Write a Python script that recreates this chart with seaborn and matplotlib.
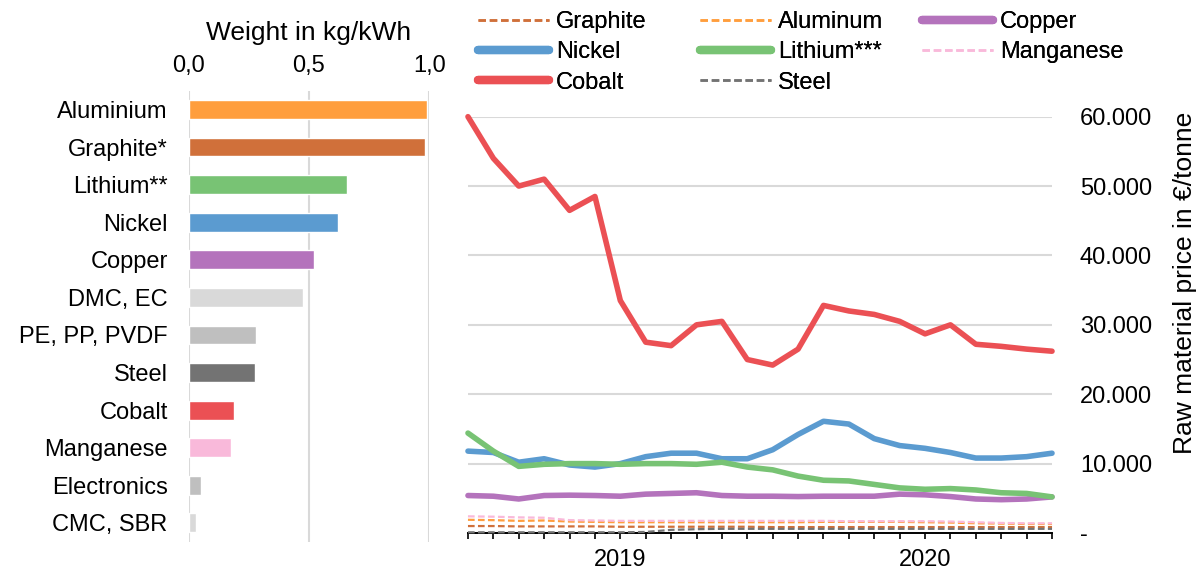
import numpy as np
import pandas as pd
import matplotlib
matplotlib.use("Agg")
import matplotlib.pyplot as plt
from matplotlib.lines import Line2D
import seaborn as sns

# ---- Material weights per kWh of battery capacity ----
materials = ["Aluminium", "Graphite*", "Lithium**", "Nickel", "Copper", "DMC, EC",
             "PE, PP, PVDF", "Steel", "Cobalt", "Manganese", "Electronics", "CMC, SBR"]
weights = [0.99, 0.98, 0.66, 0.62, 0.52, 0.475, 0.28, 0.275, 0.19, 0.175, 0.05, 0.03]
bar_colors = ["#FF9E3D", "#D0703A", "#78C374", "#5B9BD0", "#B473BC", "#D9D9D9",
              "#BFBFBF", "#737373", "#EB5054", "#F9B9DA", "#BFBFBF", "#D9D9D9"]
weight_ticks = [0.0, 0.5, 1.0]

# ---- Monthly raw material prices (EUR/tonne) ----
months = pd.date_range("2018-07-01", periods=24, freq="MS")
graphite = [1000, 1000, 950, 950, 950, 950, 900, 900, 900, 900, 900, 900,
            850, 850, 850, 850, 850, 850, 850, 850, 850, 850, 850, 850]
aluminum = [1900, 1850, 1750, 1800, 1650, 1600, 1550, 1550, 1550, 1550, 1550, 1550,
            1550, 1550, 1600, 1600, 1600, 1600, 1550, 1500, 1400, 1350, 1300, 1300]
copper = [5400, 5300, 4900, 5400, 5450, 5400, 5300, 5600, 5700, 5800, 5400, 5300,
          5300, 5250, 5300, 5300, 5300, 5600, 5500, 5250, 4900, 4800, 4900, 5200]
nickel = [11800, 11600, 10200, 10700, 9800, 9500, 10000, 11000, 11500, 11500, 10700, 10700,
          12000, 14200, 16100, 15700, 13600, 12600, 12200, 11600, 10800, 10800, 11000, 11500]
lithium = [14400, 11800, 9600, 9900, 10000, 10000, 9900, 10000, 10000, 9900, 10200, 9500,
           9100, 8200, 7600, 7500, 7000, 6500, 6300, 6400, 6200, 5800, 5700, 5200]
manganese = [2400, 2350, 2250, 2200, 1850, 1800, 1750, 1750, 1750, 1750, 1750, 1750,
             1750, 1750, 1750, 1700, 1700, 1700, 1700, 1650, 1550, 1450, 1400, 1400]
cobalt = [60000, 54000, 50000, 51000, 46500, 48500, 33500, 27500, 27000, 30000, 30500, 25000,
          24200, 26500, 32800, 32000, 31500, 30500, 28700, 30000, 27200, 26900, 26500, 26200]
steel = [100, 100, 100, 100, 100, 100, 100, 150, 450, 550, 600, 600,
         600, 600, 600, 600, 600, 600, 600, 600, 600, 600, 600, 600]
price_ticks = [0, 10000, 20000, 30000, 40000, 50000, 60000]

series = [
    ("Graphite", graphite, "#D0703A", "dash"),
    ("Aluminum", aluminum, "#FF9E3D", "dash"),
    ("Copper", copper, "#B473BC", "solid"),
    ("Nickel", nickel, "#5B9BD0", "solid"),
    ("Lithium***", lithium, "#78C374", "solid"),
    ("Manganese", manganese, "#F9B9DA", "dash"),
    ("Cobalt", cobalt, "#EB5054", "solid"),
    ("Steel", steel, "#737373", "dash"),
]

sns.set_theme(style="white")
plt.rcParams["font.family"] = ["Liberation Sans", "DejaVu Sans"]
plt.rcParams.update({
    "text.color": "black",
    "axes.labelcolor": "black",
    "xtick.color": "black",
    "ytick.color": "black",
    "xtick.labelcolor": "black",
    "ytick.labelcolor": "black",
})

fig = plt.figure(figsize=(12.03, 5.72), dpi=100)
grid_color = "#D9D9D9"

# ---------------- left: horizontal bars ----------------
ax_bar = fig.add_axes([0.1567, 0.053, 0.2002, 0.7884])
bar_df = pd.DataFrame({"material": materials, "weight": weights})
sns.barplot(data=bar_df, x="weight", y="material", hue="material",
            palette=bar_colors, legend=False, width=0.5, orient="h",
            saturation=1, ax=ax_bar, zorder=3)
ax_bar.set_xlim(0, 1.0)
ax_bar.xaxis.tick_top()
ax_bar.xaxis.set_label_position("top")
ax_bar.set_xticks(weight_ticks)
ax_bar.set_xticklabels([f"{t:.1f}".replace(".", ",") for t in weight_ticks], fontsize=17)
ax_bar.set_xlabel("Weight in kg/kWh", fontsize=19, labelpad=11)
ax_bar.set_ylabel("")
ax_bar.tick_params(axis="x", length=0, pad=10)
ax_bar.tick_params(axis="y", length=0, pad=15, labelsize=17)
ax_bar.grid(axis="x", color=grid_color, linewidth=1.5, zorder=0)
ax_bar.grid(axis="y", visible=False)
for s in ax_bar.spines.values():
    s.set_visible(False)

# ---------------- right: price time series ----------------
ax_line = fig.add_axes([0.389, 0.0682, 0.4855, 0.7278])
x_pos = np.arange(len(months))
handles = {}
for name, values, color, style in series:
    if style == "solid":
        sns.lineplot(x=x_pos, y=values, color=color, linewidth=4, ax=ax_line,
                     solid_capstyle="round", solid_joinstyle="round", clip_on=False, zorder=3)
        h = Line2D([], [], color=color, linewidth=6, solid_capstyle="round")
    else:
        sns.lineplot(x=x_pos, y=values, color=color, linewidth=1.6, ax=ax_line,
                     dashes=False, linestyle=(0, (3, 1.5)), clip_on=False, zorder=3)
        h = Line2D([], [], color=color, linewidth=1.8, linestyle=(0, (3, 1.5)))
    handles[name] = h

ax_line.set_xlim(0, len(months) - 1)
ax_line.set_ylim(0, 60000)
ax_line.set_xticks(x_pos)
ax_line.set_xticklabels([str(m.year) if m.month == 1 else "" for m in months], fontsize=17)
ax_line.tick_params(axis="x", direction="out", length=4.5, width=1.2, color="black",
                    pad=7, bottom=True)
ax_line.yaxis.tick_right()
ax_line.set_yticks(price_ticks)
ax_line.set_yticklabels([("-" if v == 0 else f"{v:,.0f}".replace(",", "."))
                         for v in price_ticks], fontsize=17)
ax_line.tick_params(axis="y", length=0, pad=20)
for lbl in ax_line.get_yticklabels():
    lbl.set_horizontalalignment("left")
ax_line.grid(axis="y", color=grid_color, linewidth=1.5, zorder=0)
ax_line.grid(axis="x", visible=False)
for side in ["top", "left", "right"]:
    ax_line.spines[side].set_visible(False)
ax_line.spines["bottom"].set_color("black")
ax_line.spines["bottom"].set_linewidth(1.4)
ax_line.set_xlabel("")
ax_line.set_ylabel("")

fig.text(1185 / 1203, 1 - 283 / 572, "Raw material price in €/tonne", rotation=90,
         ha="center", va="center", fontsize=19)

# legend: three columns laid out row by row
legend_rows = [["Graphite", "Aluminum", "Copper"],
               ["Nickel", "Lithium***", "Manganese"],
               ["Cobalt", "Steel"]]
col_x = [478, 700, 922]
for ci, x0 in enumerate(col_x):
    names = [row[ci] for row in legend_rows if ci < len(row)]
    leg = fig.legend([handles[n] for n in names], names, loc="upper left",
                     bbox_to_anchor=(x0 / 1203, 1 - 11 / 572), frameon=False,
                     fontsize=17, handlelength=3.0, handletextpad=0.3,
                     labelspacing=0.35, borderpad=0, borderaxespad=0)
    fig.add_artist(leg)

fig.savefig("out.png", dpi=100)
